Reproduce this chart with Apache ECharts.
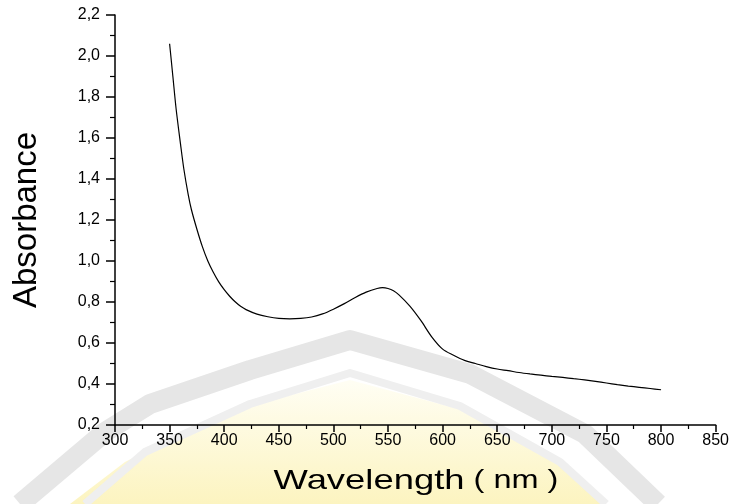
<!DOCTYPE html>
<html>
<head>
<meta charset="utf-8">
<script src="https://cdn.jsdelivr.net/npm/echarts@6/dist/echarts.min.js"></script>
<style>
  html, body { margin: 0; padding: 0; background: #fff; }
  #chart { width: 732px; height: 504px; }
</style>
</head>
<body>
<div id="chart"></div>
<script>
// wavelength in nm
const wavelength = [350, 353, 356, 360, 363, 367, 370, 375, 380, 385, 390, 395, 400, 405, 410, 415, 420, 430, 440, 450,
  460, 470, 480, 490, 500, 510, 520, 530, 540, 545, 550, 555, 560, 570, 580, 590, 600, 610, 620, 630,
  640, 650, 660, 670, 680, 690, 700, 710, 720, 730, 740, 750, 760, 770, 780, 790, 800]
const absorbance = [2.06, 1.90, 1.74, 1.57, 1.45, 1.325, 1.25, 1.155, 1.07, 1.00, 0.945, 0.898, 0.86, 0.828, 0.801, 0.779, 0.763, 0.741, 0.728, 0.72,
  0.718, 0.72, 0.727, 0.742, 0.765, 0.792, 0.822, 0.848, 0.866, 0.87, 0.866, 0.855, 0.835, 0.78, 0.71, 0.63, 0.57, 0.54, 0.515, 0.50,
  0.485, 0.473, 0.465, 0.456, 0.449, 0.443, 0.437, 0.432, 0.426, 0.42, 0.413, 0.405, 0.397, 0.39, 0.384, 0.378, 0.372]

const xTicks = { min: 300, max: 850, interval: 50 }
const yTicks = { min: 0.2, max: 2.2, interval: 0.2 }

const font = 'Arial, "Liberation Sans", sans-serif'

function decimalComma(v) {
  return v.toFixed(1).replace('.', ',')
}

const chart = echarts.init(document.getElementById('chart'))
chart.setOption({
  animation: false,
  backgroundColor: '#fff',
  graphic: [
    // faint watermark behind the plot
    {
      type: 'polygon',
      z: -10,
      shape: { points: [[350, 380], [470, 412], [560, 462], [606, 504], [70, 504], [125, 462], [225, 412]] },
      style: {
        fill: new echarts.graphic.LinearGradient(0, 0, 0, 1, [
          { offset: 0, color: '#fffef4' },
          { offset: 1, color: '#fcf4c0' }
        ])
      }
    },
    {
      type: 'polyline',
      z: -9,
      shape: { points: [[20, 504], [105, 432], [150, 404], [250, 370], [350, 340], [470, 374], [585, 434], [658, 504]] },
      style: { stroke: '#e6e6e6', lineWidth: 20, fill: null, lineJoin: 'round' }
    },
    {
      type: 'polyline',
      z: -9,
      shape: { points: [[85, 504], [145, 452], [250, 404], [350, 373], [460, 406], [560, 462], [606, 504]] },
      style: { stroke: '#efefef', lineWidth: 8, fill: null, lineJoin: 'round' }
    },
    // x axis title (reference text is drawn wide)
    {
      type: 'text',
      z: 10,
      x: 416,
      y: 481,
      scaleX: 1.3,
      style: {
        text: '{a|Wavelength}{b| ( nm )}',
        align: 'center',
        verticalAlign: 'middle',
        fill: '#000',
        rich: {
          a: { fontFamily: font, fontSize: 28, fill: '#000' },
          b: { fontFamily: font, fontSize: 25, fill: '#000' }
        }
      }
    }
  ],
  grid: {
    left: 115,
    right: 16,
    top: 15,
    bottom: 79
  },
  xAxis: {
    type: 'value',
    min: xTicks.min,
    max: xTicks.max,
    interval: xTicks.interval,
    axisLine: { show: true, onZero: false, lineStyle: { color: '#000', width: 1.5 } },
    axisTick: { show: true, length: 7, lineStyle: { color: '#000', width: 1.5 } },
    minorTick: { show: true, splitNumber: 2, length: 4, lineStyle: { color: '#000', width: 1.2 } },
    axisLabel: { color: '#000', fontFamily: font, fontSize: 16, margin: 8 },
    splitLine: { show: false }
  },
  yAxis: {
    type: 'value',
    min: yTicks.min,
    max: yTicks.max,
    interval: yTicks.interval,
    name: 'Absorbance',
    nameLocation: 'middle',
    nameGap: 72,
    nameTextStyle: { fontFamily: font, fontSize: 33, color: '#000' },
    axisLine: { show: true, onZero: false, lineStyle: { color: '#000', width: 1.5 } },
    axisTick: { show: true, length: 9, lineStyle: { color: '#000', width: 1.5 } },
    minorTick: { show: true, splitNumber: 2, length: 5, lineStyle: { color: '#000', width: 1.2 } },
    axisLabel: {
      color: '#000',
      fontFamily: font,
      fontSize: 16,
      margin: 15,
      formatter: decimalComma
    },
    splitLine: { show: false }
  },
  series: [{
    type: 'line',
    data: wavelength.map((w, i) => [w, absorbance[i]]),
    smooth: 0.3,
    showSymbol: false,
    lineStyle: { color: '#000', width: 1.2 }
  }]
})
</script>
</body>
</html>
